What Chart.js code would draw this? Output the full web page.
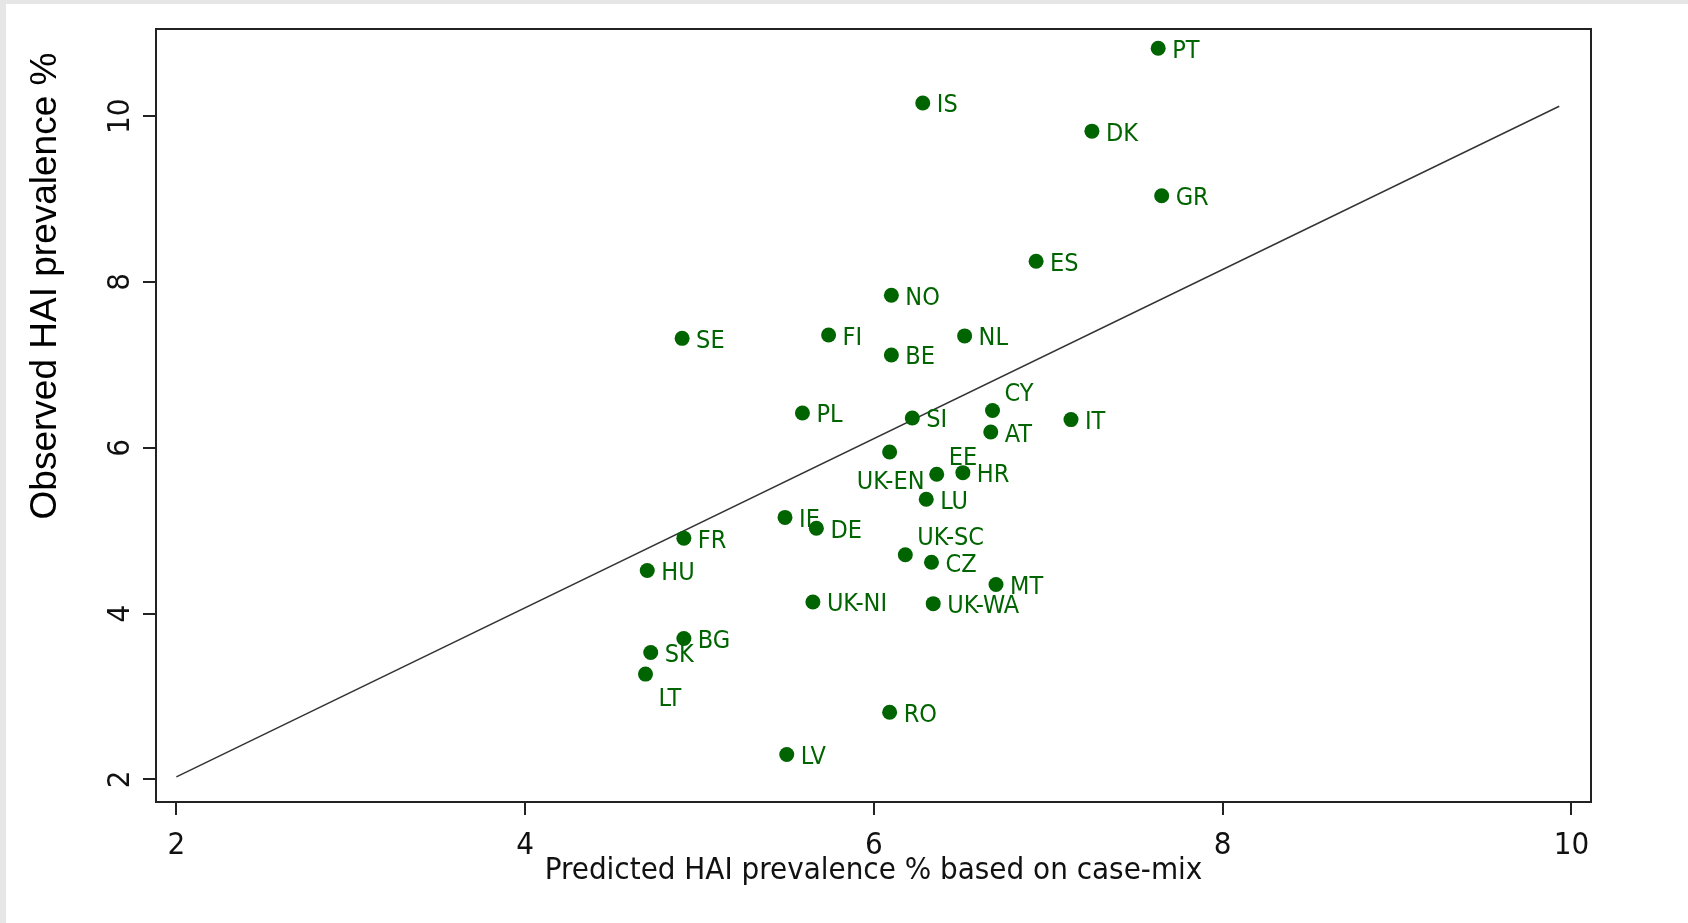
<!DOCTYPE html>
<html>
<head>
<meta charset="utf-8">
<script src="https://cdn.jsdelivr.net/npm/chart.js@4.4.1/dist/chart.umd.min.js"></script>
<style>
  html, body { margin: 0; padding: 0; background: #ffffff; }
  #wrap { position: relative; width: 1688px; height: 923px; overflow: hidden; }
  .stripL { position: absolute; left: 0; top: 0; width: 6px; height: 923px; background: #e6e6e6; }
  .stripT { position: absolute; left: 0; top: 0; width: 1688px; height: 4px; background: #e6e6e6; }
  canvas { position: absolute; left: 0; top: 0; }
</style>
</head>
<body>
<div id="wrap">
  <div class="stripL"></div>
  <div class="stripT"></div>
  <canvas id="c" width="1688" height="923"></canvas>
</div>
<script>
// ---- data ----
const countries = ['PT','IS','DK','GR','ES','NO','SE','FI','NL','BE','PL','SI','CY','AT','IT','EE','UK-EN','HR','LU','IE','DE','FR','UK-SC','CZ','HU','MT','UK-NI','UK-WA','BG','SK','LT','RO','LV'];
const predicted = [7.63,6.28,7.25,7.65,6.93,6.10,4.90,5.74,6.52,6.10,5.59,6.22,6.68,6.67,7.13,6.36,6.09,6.51,6.30,5.49,5.67,4.91,6.18,6.33,4.70,6.70,5.65,6.34,4.91,4.72,4.69,6.09,5.50];
const observed  = [10.82,10.16,9.82,9.04,8.25,7.84,7.32,7.36,7.35,7.12,6.42,6.36,6.45,6.19,6.34,5.68,5.95,5.70,5.38,5.16,5.03,4.91,4.71,4.62,4.52,4.35,4.14,4.12,3.70,3.53,3.27,2.81,2.30];
const fitX = [2.0, 9.93];
const fitY = [2.03, 10.12];
const xTicks = [2, 4, 6, 8, 10];
const yTicks = [2, 4, 6, 8, 10];
const xTitle = 'Predicted HAI prevalence % based on case-mix';
const yTitle = 'Observed HAI prevalence %';

// label placement style (clock-like positions), default = right
const labelPlace = { 'CY': 'ur', 'EE': 'ur', 'UK-SC': 'ur', 'UK-EN': 'b', 'LT': 'br' };

const GREEN = '#006400';
const LABEL_FONT = '25px "DejaVu Sans Condensed", "DejaVu Sans", sans-serif';
const TICK_FONT = { family: '"DejaVu Sans Condensed", "DejaVu Sans", sans-serif', size: 31 };

const pts = countries.map((c, i) => ({ x: predicted[i], y: observed[i], label: c }));
const fit = fitX.map((x, i) => ({ x: x, y: fitY[i] }));

const labelPlugin = {
  id: 'pointLabels',
  afterDatasetsDraw(chart) {
    const ctx = chart.ctx;
    const meta = chart.getDatasetMeta(1);
    ctx.save();
    ctx.font = LABEL_FONT;
    ctx.fillStyle = GREEN;
    ctx.textBaseline = 'middle';
    meta.data.forEach((el, i) => {
      const name = countries[i];
      const pos = labelPlace[name] || 'r';
      let dx = 14, dy = 3, align = 'left';
      if (pos === 'ur') { dx = 12; dy = -16; }
      else if (pos === 'b') { dx = 1; dy = 31; align = 'center'; }
      else if (pos === 'br') { dx = 13; dy = 25; }
      ctx.textAlign = align;
      ctx.fillText(name, el.x + dx, el.y + dy);
    });
    ctx.restore();
  }
};

const framePlugin = {
  id: 'frame',
  afterDraw(chart) {
    const { ctx, chartArea: a } = chart;
    ctx.save();
    ctx.strokeStyle = '#222';
    ctx.lineWidth = 2;
    ctx.strokeRect(a.left, a.top, a.right - a.left, a.bottom - a.top);
    // y axis title
    ctx.translate(46, 286);
    ctx.rotate(-Math.PI / 2);
    ctx.font = '37px "Liberation Sans", Arial, sans-serif';
    ctx.fillStyle = '#000';
    ctx.textAlign = 'center';
    ctx.textBaseline = 'middle';
    ctx.fillText(yTitle, 0, 0);
    ctx.restore();
  }
};

new Chart(document.getElementById('c'), {
  data: {
    datasets: [
      { type: 'line', data: fit, borderColor: '#333', borderWidth: 1.5, pointRadius: 0, fill: false, order: 2 },
      { type: 'scatter', data: pts, backgroundColor: GREEN, borderWidth: 0, pointRadius: 7.5, order: 1 }
    ]
  },
  options: {
    responsive: false,
    animation: false,
    events: [],
    layout: { padding: { top: 29, right: 97, left: 0, bottom: 0 } },
    plugins: { legend: { display: false }, tooltip: { enabled: false } },
    scales: {
      x: {
        type: 'linear', min: 1.883, max: 10.112,
        afterBuildTicks: s => { s.ticks = xTicks.map(v => ({ value: v })); },
        afterFit: s => { s.height = 121; },
        grid: { display: true, drawOnChartArea: false, drawTicks: true, tickLength: 13, color: '#222', lineWidth: 2 },
        border: { display: true, color: '#222', width: 2 },
        ticks: { font: TICK_FONT, color: '#111', padding: 12, maxRotation: 0, minRotation: 0 },
        title: { display: true, text: xTitle, font: TICK_FONT, color: '#111', padding: { top: 0, bottom: 33 } }
      },
      y: {
        type: 'linear', min: 1.727, max: 11.052,
        afterBuildTicks: s => { s.ticks = yTicks.map(v => ({ value: v })); },
        afterFit: s => { s.width = 156; },
        grid: { display: true, drawOnChartArea: false, drawTicks: true, tickLength: 13, color: '#222', lineWidth: 2 },
        border: { display: true, color: '#222', width: 2 },
        ticks: { font: TICK_FONT, color: '#111', padding: 4, minRotation: 90, maxRotation: 90, crossAlign: 'center' }
      }
    }
  },
  plugins: [labelPlugin, framePlugin]
});
</script>
</body>
</html>
